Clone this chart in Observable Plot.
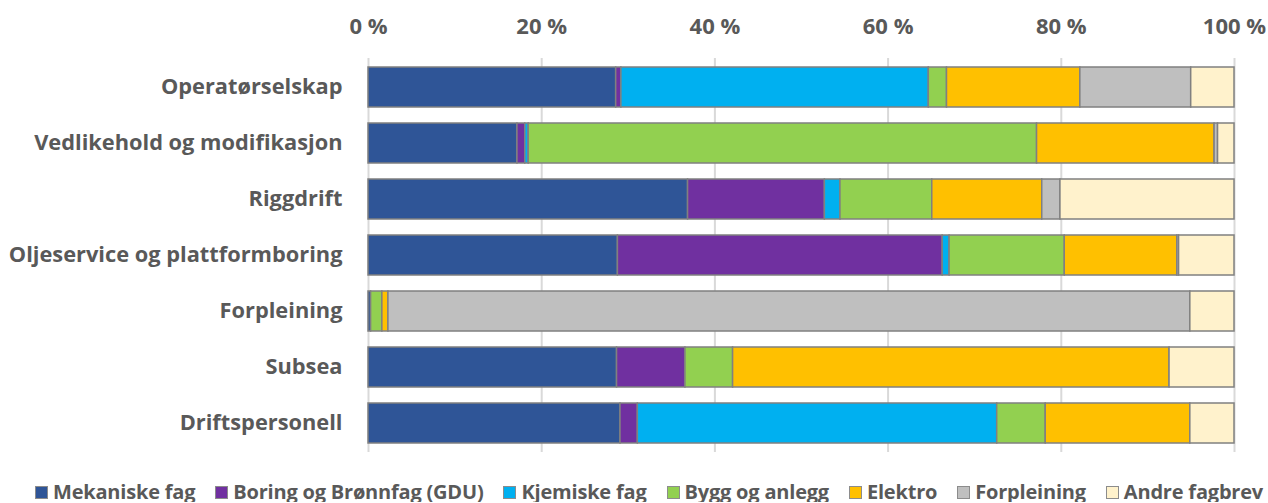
<!DOCTYPE html>
<html>
<head>
<meta charset="utf-8">
<script src="https://cdn.jsdelivr.net/npm/d3@7"></script>
<script src="https://cdn.jsdelivr.net/npm/@observablehq/plot@0.6"></script>
<style>
  html, body { margin: 0; background: #fff; font-family: "Open Sans", sans-serif; overflow: hidden; }
  #chart svg { display: block; }
  #legend { display: flex; justify-content: center; gap: 20px; margin-top: 16px; margin-left: 30px; font-weight: 700; font-size: 20px; line-height: 20px; height: 20px; color: #595959; letter-spacing: -0.2px; }
  .item { display: flex; align-items: center; gap: 5px; white-space: nowrap; }
  .sw { width: 13px; height: 13px; border: 1.5px solid #8c8c8c; box-sizing: border-box; }
</style>
</head>
<body>
<div id="chart"></div>
<div id="legend"></div>
<script>
const categories = ["Operatørselskap", "Vedlikehold og modifikasjon", "Riggdrift", "Oljeservice og plattformboring", "Forpleining", "Subsea", "Driftspersonell"];
const series = ["Mekaniske fag", "Boring og Brønnfag (GDU)", "Kjemiske fag", "Bygg og anlegg", "Elektro", "Forpleining", "Andre fagbrev"];
const colors = ["#2F5597", "#7030A0", "#00B0F0", "#92D050", "#FFC000", "#BFBFBF", "#FFF2CC"];
const mekaniske = [28.6, 17.2, 36.9, 28.8, 0.3, 28.7, 29.1];
const boring    = [0.6, 0.9, 15.8, 37.5, 0, 7.9, 2.0];
const kjemiske  = [35.5, 0.4, 1.8, 0.8, 0, 0, 41.5];
const bygg      = [2.1, 58.7, 10.6, 13.3, 1.3, 5.5, 5.6];
const elektro   = [15.4, 20.5, 12.7, 13.0, 0.7, 50.4, 16.7];
const forpl     = [12.8, 0.4, 2.1, 0.2, 92.6, 0, 0];
const andre     = [5.0, 1.9, 20.1, 6.4, 5.1, 7.5, 5.1];
const xTicks = [0, 20, 40, 60, 80, 100];

const seriesValues = [mekaniske, boring, kjemiske, bygg, elektro, forpl, andre];
const data = [];
categories.forEach((c, i) => {
  seriesValues.forEach((vals, s) => {
    data.push({category: c, series: series[s], value: vals[i]});
  });
});

const plot = Plot.plot({
  width: 1268,
  height: 466,
  marginLeft: 368,
  marginRight: 34,
  marginTop: 58,
  marginBottom: 14,
  style: {fontFamily: "'Open Sans', sans-serif", fontWeight: 700, color: "#595959", fontSize: "21.8px"},
  x: {domain: [0, 100]},
  y: {domain: categories, paddingInner: 0.28, paddingOuter: 0.14},
  color: {domain: series, range: colors},
  marks: [
    Plot.gridX(xTicks, {stroke: "#d9d9d9", strokeOpacity: 1, strokeWidth: 2}),
    Plot.axisX(xTicks, {anchor: "top", tickSize: 0, tickPadding: 25, tickFormat: d => d + " %", fontSize: 22, fill: "#595959", label: null}),
    Plot.axisY({tickSize: 0, tickPadding: 26, fontSize: 21.8, fill: "#595959", label: null}),
    Plot.barX(data, Plot.stackX({x: "value", y: "category", fill: "series", order: series, stroke: "#808080", strokeWidth: 1.5}))
  ]
});
document.getElementById("chart").appendChild(plot);

const legend = document.getElementById("legend");
series.forEach((s, i) => {
  const it = document.createElement("div");
  it.className = "item";
  const sw = document.createElement("span");
  sw.className = "sw";
  sw.style.background = colors[i];
  const t = document.createElement("span");
  t.textContent = s;
  it.appendChild(sw); it.appendChild(t);
  legend.appendChild(it);
});
</script>
</body>
</html>
